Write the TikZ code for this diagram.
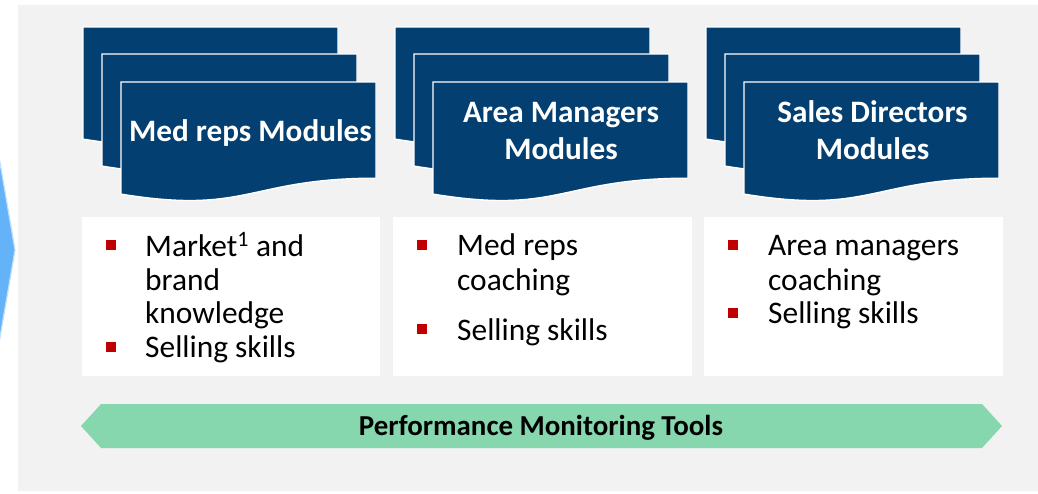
\documentclass[tikz,border=0pt]{standalone}
\usepackage{fontspec}
\setmainfont{Carlito}
\definecolor{panelgray}{RGB}{242,242,242}
\definecolor{navy}{RGB}{3,63,113}
\definecolor{bulletred}{RGB}{192,0,0}
\definecolor{mint}{RGB}{134,215,174}
\definecolor{skyblue}{RGB}{100,178,248}
\definecolor{skyedge}{RGB}{190,222,252}
\newcommand\docstack[2]{%
  \begin{scope}[shift={(#1,#2)}]
    \foreach \dx/\dy in {0/0,19/27,38/55}{
      \filldraw[sheet] (\dx,\dy) -- ++(255,0) -- ++(0,96.2)
        .. controls (\dx+127.5,\dy+96.2) and (\dx+127.5,\dy+133) .. (\dx,\dy+112.1) -- cycle;
    }
  \end{scope}}
\begin{document}
\begin{tikzpicture}[x=1pt,y=-1pt,
  sheet/.style={fill=navy,draw=white,line width=1.4pt},
  titletext/.style={text=white,font=\fontsize{31.2}{37}\selectfont\bfseries,inner sep=0pt,anchor=base},
  bodytext/.style={font=\fontsize{31.4}{34}\selectfont,inner sep=0pt,anchor=base west},
  bulletsq/.style={fill=bulletred,minimum size=9.5pt,inner sep=0pt},
  listbox/.style={fill=white},
  bandtext/.style={font=\fontsize{28.9}{32}\selectfont\bfseries,inner sep=0pt,anchor=base}]
\useasboundingbox (0,0) rectangle (1038,493);
\clip (0,0) rectangle (1038,493);
\fill[white] (0,0) rectangle (1038,493);
% left blue chevron
\filldraw[fill=skyblue,draw=skyedge,line width=1.2pt] (-12,93) -- (15,250) -- (-12,407) -- cycle;
% gray panel
\fill[panelgray] (18,5) rectangle (1038,491);
% module stacks
\docstack{83}{27}
\docstack{395}{27}
\docstack{706}{27}
% titles
\node[titletext] (t1) at (250.5,141) {Med reps Modules};
\node[titletext] (t2a) at (561,122) {Area Managers};
\node[titletext] (t2b) at (561,159.5) {Modules};
\node[titletext] (t3a) at (872.5,122) {Sales Directors};
\node[titletext] (t3b) at (872.5,159.5) {Modules};
% list boxes
\fill[listbox] (82,217) rectangle (380,376);
\fill[listbox] (393,217) rectangle (692,376);
\fill[listbox] (704,217) rectangle (1003,376);
% column 1
\node[bulletsq] (b11) at (111,245) {};
\node[bulletsq] (b12) at (111,347) {};
\node[bodytext] (l11) at (145,256) {Market\textsuperscript{1} and};
\node[bodytext] (l12) at (145,290) {brand};
\node[bodytext] (l13) at (145,323) {knowledge};
\node[bodytext] (l14) at (145,357) {Selling skills};
% column 2
\node[bulletsq] (b21) at (422,245) {};
\node[bulletsq] (b22) at (422,329) {};
\node[bodytext] (l21) at (457,255) {Med reps};
\node[bodytext] (l22) at (457,290) {coaching};
\node[bodytext] (l23) at (457,340) {Selling skills};
% column 3
\node[bulletsq] (b31) at (733,245) {};
\node[bulletsq] (b32) at (733,313) {};
\node[bodytext] (l31) at (768,255) {Area managers};
\node[bodytext] (l32) at (768,290) {coaching};
\node[bodytext] (l33) at (768,323) {Selling skills};
% green double arrow band
\fill[mint] (81,426) -- (101,404) -- (982,404) -- (1002,426) -- (982,448) -- (101,448) -- cycle;
\node[bandtext] (band) at (541,435) {Performance Monitoring Tools};
\end{tikzpicture}
\end{document}
